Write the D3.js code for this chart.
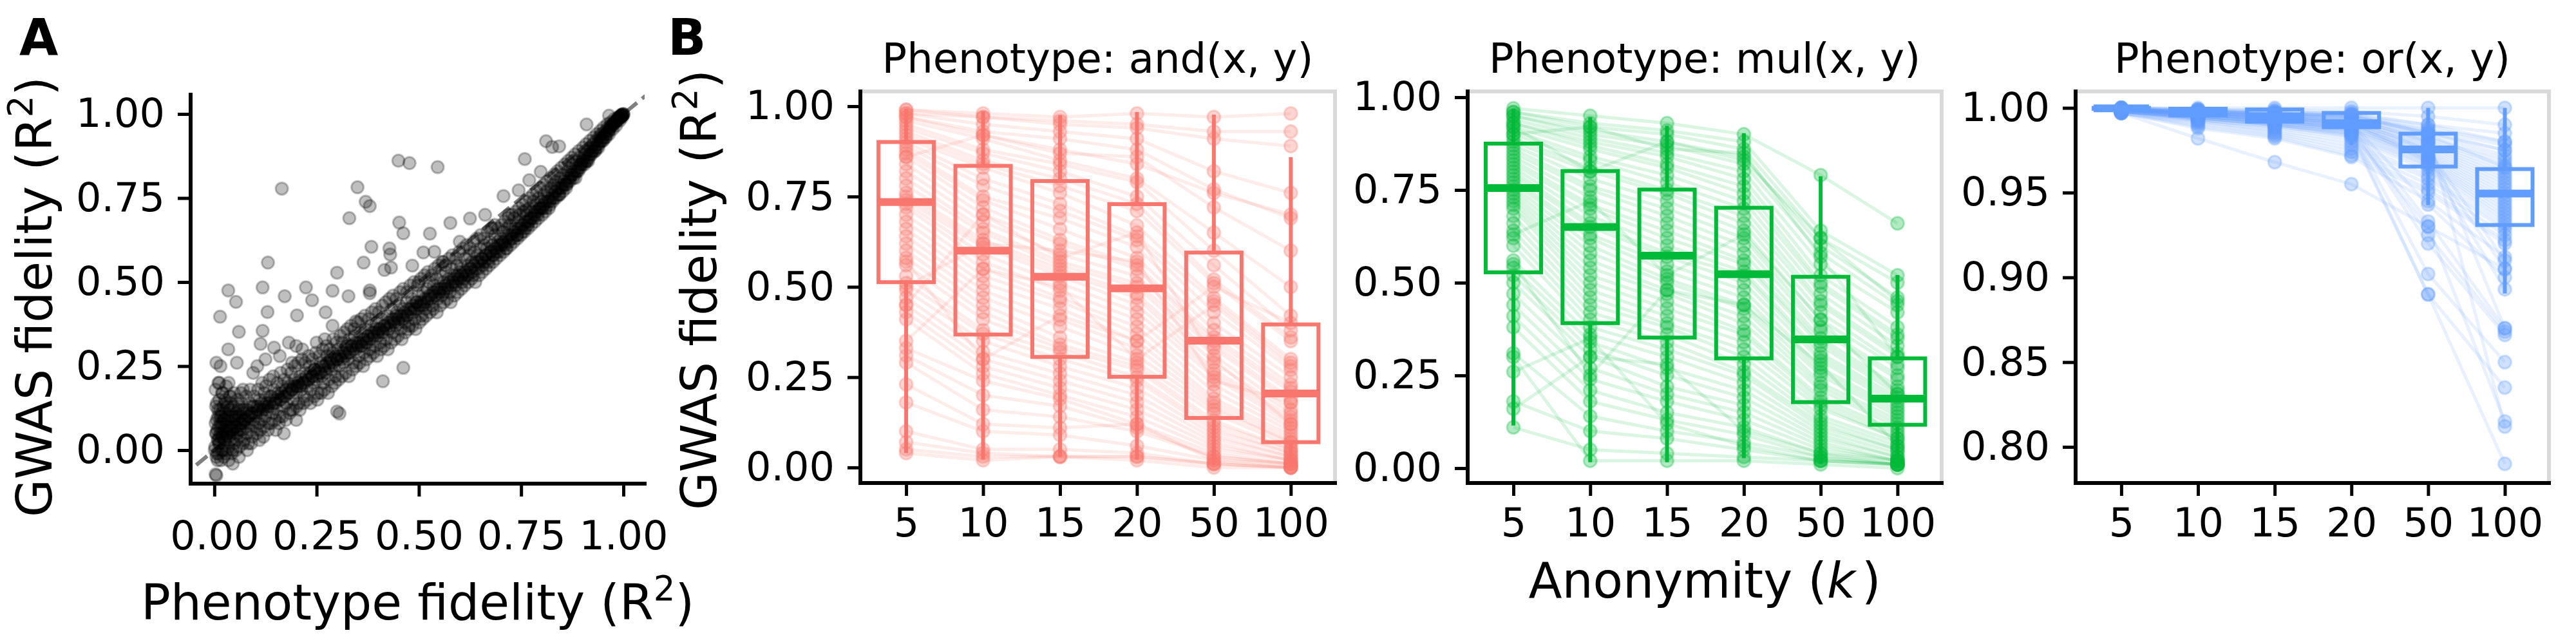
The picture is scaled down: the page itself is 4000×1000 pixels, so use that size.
<!DOCTYPE html>
<html><head><meta charset="utf-8">
<script src="https://cdn.jsdelivr.net/npm/d3@7"></script>
<style>body{margin:0;background:#fff;} svg{display:block;font-family:"DejaVu Sans",sans-serif;}</style>
</head><body><svg id="c" width="4000" height="1000"></svg>
<script>
// ---------- DATA ----------
const scatterBand = [
[0.002,0.01],[0.004,0.05],[0.005,-0.02],[0.006,0.09],[0.008,0.03],[0.009,0.12],[0.01,-0.01],[0.011,0.07],[0.012,0.15],[0.013,0.02],[0.015,0.05],[0.016,-0.03],[0.017,0.10],[0.018,0.04],[0.02,0.08],[0.021,0.0],[0.022,0.13],[0.024,0.06],[0.025,0.02],[0.027,0.11],[0.028,-0.01],[0.03,0.07],[0.031,0.04],[0.033,0.09],
[0.035,0.01],[0.036,0.12],[0.038,0.06],[0.04,0.03],[0.042,0.08],[0.044,0.10],[0.045,0.0],[0.047,0.05],[0.05,0.07],[0.052,0.11],[0.054,0.03],[0.056,0.09],[0.058,0.06],[0.06,0.13],[0.062,0.04],[0.064,0.08],[0.066,0.1],[0.068,0.06],[0.07,0.02],[0.072,0.09],[0.075,0.12],[0.077,0.07],[0.08,0.05],[0.082,0.1],[0.085,0.08],[0.087,0.14],[0.09,0.06],[0.092,0.11],[0.095,0.09],[0.098,0.13],[0.1,0.07],
[0.102,0.10],[0.105,0.12],[0.108,0.08],[0.11,0.15],[0.113,0.11],[0.116,0.09],[0.12,0.13],[0.122,0.17],[0.125,0.10],[0.128,0.14],[0.13,0.12],[0.133,0.08],[0.136,0.16],[0.14,0.13],[0.143,0.11],[0.146,0.18],[0.15,0.14],[0.153,0.12],[0.156,0.16],[0.16,0.10],[0.163,0.15],[0.166,0.19],[0.17,0.13],[0.173,0.16],[0.176,0.14],[0.18,0.2],[0.183,0.17],[0.186,0.12],[0.19,0.18],[0.193,0.15],[0.196,0.21],[0.2,0.17],
[0.203,0.19],[0.206,0.14],[0.21,0.22],[0.213,0.18],[0.216,0.2],[0.22,0.16],[0.223,0.23],[0.226,0.19],[0.23,0.21],[0.233,0.25],[0.236,0.18],[0.24,0.22],[0.243,0.2],[0.246,0.24],[0.25,0.21],[0.253,0.17],[0.256,0.23],[0.26,0.26],[0.263,0.22],[0.266,0.2],[0.27,0.25],[0.273,0.23],[0.276,0.28],[0.28,0.21],[0.283,0.26],[0.286,0.24],[0.29,0.29],[0.293,0.25],[0.296,0.22],[0.3,0.27],
[0.303,0.3],[0.306,0.25],[0.31,0.28],[0.313,0.32],[0.316,0.26],[0.32,0.29],[0.323,0.31],[0.326,0.27],[0.33,0.33],[0.333,0.29],[0.336,0.31],[0.34,0.26],[0.343,0.34],[0.346,0.3],[0.35,0.32],[0.353,0.28],[0.356,0.35],[0.36,0.31],[0.363,0.33],[0.366,0.29],[0.37,0.36],[0.373,0.32],[0.376,0.34],[0.38,0.3],[0.383,0.37],[0.386,0.33],[0.39,0.35],[0.393,0.31],[0.396,0.38],[0.4,0.34],
[0.403,0.36],[0.406,0.32],[0.41,0.39],[0.413,0.35],[0.416,0.37],[0.42,0.33],[0.423,0.4],[0.426,0.36],[0.43,0.38],[0.433,0.42],[0.436,0.35],[0.44,0.39],[0.443,0.37],[0.446,0.41],[0.45,0.38],[0.453,0.43],[0.456,0.36],[0.46,0.4],[0.463,0.42],[0.466,0.38],[0.47,0.44],[0.473,0.4],[0.476,0.37],[0.48,0.42],[0.483,0.45],[0.486,0.41],[0.49,0.39],[0.493,0.44],[0.496,0.42],[0.5,0.46],
[0.503,0.43],[0.506,0.4],[0.51,0.47],[0.513,0.44],[0.516,0.42],[0.52,0.48],[0.523,0.45],[0.526,0.5],[0.53,0.46],[0.533,0.43],[0.536,0.49],[0.54,0.47],[0.543,0.51],[0.546,0.45],[0.55,0.48],[0.553,0.52],[0.556,0.46],[0.56,0.5],[0.563,0.48],[0.566,0.53],[0.57,0.49],[0.573,0.51],[0.576,0.47],[0.58,0.54],[0.583,0.5],[0.586,0.52],[0.59,0.49],[0.593,0.55],[0.596,0.51],[0.6,0.53],
[0.603,0.55],[0.606,0.5],[0.61,0.53],[0.613,0.57],[0.616,0.52],[0.62,0.55],[0.623,0.58],[0.626,0.54],[0.63,0.56],[0.633,0.52],[0.636,0.59],[0.64,0.56],[0.643,0.58],[0.646,0.54],[0.65,0.6],[0.653,0.57],[0.656,0.55],[0.66,0.61],[0.663,0.58],[0.666,0.6],[0.67,0.56],[0.673,0.62],[0.676,0.59],[0.68,0.61],[0.683,0.58],[0.686,0.64],[0.69,0.6],[0.693,0.62],[0.696,0.59],[0.7,0.63],
[0.703,0.61],[0.706,0.65],[0.71,0.62],[0.713,0.6],[0.716,0.66],[0.72,0.64],[0.723,0.67],[0.726,0.63],[0.73,0.65],[0.733,0.69],[0.736,0.66],[0.74,0.64],[0.743,0.68],[0.746,0.7],[0.75,0.67],[0.753,0.65],[0.756,0.71],[0.76,0.68],[0.763,0.7],[0.766,0.67],[0.77,0.72],[0.773,0.69],[0.776,0.71],[0.78,0.74],[0.783,0.7],[0.786,0.73],[0.79,0.71],[0.793,0.75],[0.796,0.72],[0.8,0.74],
[0.803,0.72],[0.806,0.76],[0.81,0.74],[0.813,0.77],[0.816,0.75],[0.82,0.73],[0.823,0.78],[0.826,0.76],[0.83,0.79],[0.833,0.77],[0.836,0.8],[0.84,0.78],[0.843,0.76],[0.846,0.81],[0.85,0.79],[0.853,0.82],[0.856,0.8],[0.86,0.78],[0.863,0.83],[0.866,0.81],[0.87,0.84],[0.873,0.82],[0.876,0.85],[0.88,0.83],[0.883,0.81],[0.886,0.86],[0.89,0.84],[0.893,0.87],[0.896,0.85],[0.9,0.86],
[0.903,0.87],[0.906,0.88],[0.91,0.86],[0.913,0.89],[0.916,0.88],[0.92,0.9],[0.923,0.89],[0.926,0.91],[0.93,0.9],[0.933,0.92],[0.936,0.91],[0.94,0.93],[0.943,0.92],[0.946,0.94],[0.95,0.93],[0.953,0.945],[0.956,0.94],[0.96,0.955],[0.963,0.95],[0.966,0.96],[0.97,0.965],[0.973,0.97],[0.976,0.97],[0.98,0.978],[0.983,0.98],[0.986,0.985],[0.99,0.99],[0.993,0.992],[0.996,0.996],[0.998,0.998],[1.0,1.0],[0.999,0.999],[0.997,0.995],[0.995,0.994],[0.992,0.99],[0.988,0.986]
];
const scatterBandWide = [
[0.003,0.18],[0.006,0.14],[0.008,-0.03],[0.012,0.2],[0.014,0.1],[0.019,0.17],[0.023,-0.02],[0.026,0.15],[0.029,0.19],[0.032,0.13],[0.037,0.16],[0.041,0.14],[0.043,-0.01],[0.048,0.17],[0.053,0.0],[0.057,0.15],[0.061,0.01],[0.065,0.17],[0.069,0.12],[0.073,0.03],[0.078,0.16],[0.083,0.02],[0.088,0.18],[0.093,0.04],[0.097,0.16],
[0.104,0.05],[0.107,0.18],[0.112,0.06],[0.117,0.2],[0.121,0.07],[0.126,0.19],[0.131,0.06],[0.135,0.21],[0.139,0.08],[0.144,0.22],[0.149,0.09],[0.154,0.2],[0.158,0.08],[0.162,0.23],[0.167,0.1],[0.171,0.21],[0.175,0.09],[0.179,0.24],[0.184,0.11],[0.188,0.23],[0.192,0.12],[0.197,0.25],
[0.201,0.13],[0.205,0.26],[0.209,0.12],[0.214,0.27],[0.218,0.14],[0.222,0.26],[0.227,0.15],[0.231,0.28],[0.235,0.14],[0.239,0.27],[0.244,0.16],[0.248,0.29],[0.252,0.15],[0.257,0.28],[0.261,0.17],[0.265,0.3],[0.269,0.18],[0.274,0.31],[0.278,0.17],[0.282,0.3],[0.287,0.19],[0.291,0.33],[0.295,0.2],[0.299,0.32],
[0.304,0.21],[0.308,0.34],[0.312,0.22],[0.317,0.35],[0.321,0.23],[0.325,0.36],[0.329,0.22],[0.334,0.37],[0.338,0.24],[0.342,0.36],[0.347,0.25],[0.351,0.38],[0.355,0.26],[0.359,0.39],[0.364,0.25],[0.368,0.4],[0.372,0.27],[0.377,0.39],[0.381,0.28],[0.385,0.41],[0.389,0.29],[0.394,0.42],[0.398,0.28],
[0.402,0.41],[0.407,0.3],[0.411,0.43],[0.415,0.31],[0.419,0.44],[0.424,0.3],[0.428,0.45],[0.432,0.32],[0.437,0.46],[0.441,0.33],[0.445,0.45],[0.449,0.34],[0.454,0.47],[0.458,0.33],[0.462,0.48],[0.467,0.35],[0.471,0.47],[0.475,0.36],[0.479,0.49],[0.484,0.37],[0.488,0.5],[0.492,0.36],[0.497,0.49],
[0.501,0.38],[0.505,0.51],[0.509,0.39],[0.514,0.52],[0.518,0.4],[0.522,0.53],[0.527,0.41],[0.531,0.52],[0.535,0.42],[0.539,0.54],[0.544,0.41],[0.548,0.55],[0.552,0.43],[0.557,0.56],[0.561,0.44],[0.565,0.55],[0.569,0.45],[0.574,0.57],[0.578,0.44],[0.582,0.58],[0.587,0.46],[0.591,0.57],[0.595,0.47],[0.599,0.59],
[0.604,0.48],[0.608,0.6],[0.612,0.49],[0.617,0.61],[0.621,0.5],[0.625,0.6],[0.629,0.51],[0.634,0.62],[0.638,0.5],[0.642,0.63],[0.647,0.52],[0.651,0.64],[0.655,0.53],[0.659,0.63],[0.664,0.54],[0.668,0.65],[0.672,0.55],[0.677,0.66],[0.681,0.56],[0.685,0.67],[0.689,0.57],[0.694,0.66],[0.698,0.58],
[0.702,0.67],[0.707,0.59],[0.711,0.68],[0.715,0.6],[0.719,0.69],[0.724,0.61],[0.728,0.7],[0.732,0.62],[0.737,0.71],[0.741,0.63],[0.745,0.72],[0.749,0.64],[0.754,0.73],[0.758,0.65],[0.762,0.74],[0.767,0.66],[0.771,0.75],[0.775,0.67],[0.779,0.76],[0.784,0.68],[0.788,0.77],[0.792,0.69],[0.797,0.78],
[0.801,0.7],[0.805,0.79],[0.809,0.71],[0.814,0.8],[0.818,0.72],[0.822,0.81],[0.827,0.74],[0.831,0.82],[0.835,0.75],[0.839,0.83],[0.844,0.76],[0.848,0.84],[0.852,0.77],[0.857,0.85],[0.861,0.79],[0.865,0.86],[0.869,0.8],[0.874,0.87],[0.878,0.81],[0.882,0.88],[0.887,0.83],[0.891,0.89],[0.895,0.84],
[0.901,0.9],[0.905,0.85],[0.909,0.91],[0.914,0.86],[0.918,0.92],[0.922,0.88],[0.927,0.93],[0.931,0.89],[0.935,0.94],[0.939,0.9],[0.944,0.95],[0.948,0.92],[0.952,0.96],[0.957,0.93],[0.961,0.97],[0.965,0.94],[0.969,0.975],[0.974,0.955],[0.978,0.985],[0.982,0.965],[0.987,0.99],[0.991,0.98],[0.994,0.997],[0.997,0.99]
];
const scatterCore = [
[0.005,0.05],[0.01,0.03],[0.015,0.08],[0.02,0.04],[0.025,0.09],[0.03,0.05],[0.035,0.07],[0.04,0.10],[0.045,0.06],[0.05,0.09],[0.055,0.07],[0.06,0.10],[0.065,0.08],[0.07,0.11],[0.075,0.09],[0.08,0.12],[0.085,0.10],[0.09,0.11],[0.095,0.13],[0.1,0.11],
[0.105,0.13],[0.11,0.12],[0.115,0.14],[0.12,0.12],[0.125,0.15],[0.13,0.13],[0.135,0.14],[0.14,0.16],[0.145,0.14],[0.15,0.15],[0.155,0.17],[0.16,0.15],[0.165,0.17],[0.17,0.16],[0.175,0.18],[0.18,0.17],[0.185,0.19],[0.19,0.18],[0.195,0.19],[0.2,0.19],
[0.205,0.2],[0.21,0.19],[0.215,0.21],[0.22,0.2],[0.225,0.22],[0.23,0.21],[0.235,0.23],[0.24,0.22],[0.245,0.24],[0.25,0.22],[0.255,0.24],[0.26,0.23],[0.265,0.25],[0.27,0.24],[0.275,0.26],[0.28,0.25],[0.285,0.27],[0.29,0.26],[0.295,0.28],[0.3,0.27],
[0.305,0.28],[0.31,0.27],[0.315,0.29],[0.32,0.28],[0.325,0.3],[0.33,0.29],[0.335,0.31],[0.34,0.3],[0.345,0.32],[0.35,0.31],[0.355,0.32],[0.36,0.31],[0.365,0.33],[0.37,0.32],[0.375,0.34],[0.38,0.33],[0.385,0.35],[0.39,0.34],[0.395,0.36],[0.4,0.35],
[0.405,0.36],[0.41,0.35],[0.415,0.37],[0.42,0.36],[0.425,0.38],[0.43,0.37],[0.435,0.39],[0.44,0.38],[0.445,0.4],[0.45,0.39],[0.455,0.4],[0.46,0.39],[0.465,0.41],[0.47,0.4],[0.475,0.42],[0.48,0.41],[0.485,0.43],[0.49,0.42],[0.495,0.44],[0.5,0.43],
[0.505,0.44],[0.51,0.43],[0.515,0.45],[0.52,0.44],[0.525,0.46],[0.53,0.45],[0.535,0.47],[0.54,0.46],[0.545,0.48],[0.55,0.47],[0.555,0.48],[0.56,0.47],[0.565,0.49],[0.57,0.48],[0.575,0.5],[0.58,0.49],[0.585,0.51],[0.59,0.5],[0.595,0.52],[0.6,0.51],
[0.605,0.52],[0.61,0.51],[0.615,0.53],[0.62,0.52],[0.625,0.54],[0.63,0.53],[0.635,0.55],[0.64,0.54],[0.645,0.56],[0.65,0.56],[0.655,0.57],[0.66,0.56],[0.665,0.58],[0.67,0.57],[0.675,0.59],[0.68,0.58],[0.685,0.6],[0.69,0.59],[0.695,0.61],[0.7,0.61],
[0.705,0.62],[0.71,0.61],[0.715,0.63],[0.72,0.62],[0.725,0.64],[0.73,0.63],[0.735,0.65],[0.74,0.64],[0.745,0.66],[0.75,0.66],[0.755,0.67],[0.76,0.66],[0.765,0.68],[0.77,0.68],[0.775,0.69],[0.78,0.69],[0.785,0.71],[0.79,0.7],[0.795,0.72],[0.8,0.72],
[0.805,0.73],[0.81,0.72],[0.815,0.74],[0.82,0.74],[0.825,0.75],[0.83,0.75],[0.835,0.77],[0.84,0.76],[0.845,0.78],[0.85,0.78],[0.855,0.79],[0.86,0.79],[0.865,0.8],[0.87,0.81],[0.875,0.82],[0.88,0.82],[0.885,0.83],[0.89,0.83],[0.895,0.85],[0.9,0.85],
[0.905,0.86],[0.91,0.86],[0.915,0.87],[0.92,0.88],[0.925,0.89],[0.93,0.89],[0.935,0.9],[0.94,0.91],[0.945,0.92],[0.95,0.92],[0.955,0.93],[0.96,0.94],[0.965,0.95],[0.97,0.96],[0.975,0.97],[0.98,0.975],[0.985,0.98],[0.99,0.99],[0.995,0.995],[1.0,0.998],
[0.001,0.0],[0.003,0.08],[0.004,0.13],[0.006,-0.01],[0.007,0.06],[0.009,0.1],[0.011,0.02],[0.012,0.04],[0.014,0.12],[0.016,0.07],[0.018,0.0],[0.019,0.11],[0.021,0.05],[0.023,0.09],[0.026,0.03],[0.027,0.14],[0.029,0.06],[0.032,0.0],[0.034,0.1],[0.037,0.04],[0.039,0.12],[0.041,0.07],[0.046,0.13],[0.049,0.02],[0.051,0.1],[0.055,0.05],[0.059,0.12],[0.063,0.06],[0.067,0.14],[0.071,0.08]
];
const scatterOutliers = [
[0.165,0.778],[0.45,0.861],[0.477,0.854],[0.546,0.842],[0.35,0.782],[0.37,0.739],[0.38,0.726],[0.33,0.69],[0.452,0.677],[0.462,0.645],[0.527,0.644],[0.577,0.676],[0.625,0.689],[0.662,0.7],[0.707,0.756],[0.759,0.866],[0.811,0.919],[0.826,0.902],[0.843,0.904],[0.91,0.969],[0.965,0.995],[0.798,0.828],[0.77,0.803],[0.744,0.773],[0.762,0.713],[0.384,0.605],[0.428,0.6],[0.43,0.582],[0.365,0.558],[0.3,0.528],[0.416,0.536],[0.432,0.543],[0.484,0.549],[0.511,0.588],[0.538,0.59],[0.131,0.558],[0.034,0.475],[0.053,0.441],[0.118,0.484],[0.172,0.458],[0.224,0.484],[0.239,0.446],[0.289,0.474],[0.328,0.458],[0.38,0.475],[0.38,0.467],[0.014,0.397],[0.13,0.411],[0.202,0.401],[0.272,0.41],[0.06,0.352],[0.118,0.355],[0.346,0.383],[0.289,0.37],[0.034,0.3],[0.113,0.316],[0.146,0.305],[0.182,0.32],[0.2,0.31],[0.215,0.3],[0.25,0.32],[0.27,0.33],[0.005,0.26],[0.015,0.25],[0.055,0.26],[0.035,0.2],[0.01,0.2],[0.095,0.23],[0.105,0.25],[0.125,0.27],[0.16,0.28],[0.19,0.26],[0.412,0.205],[0.462,0.245],[0.306,0.109],[0.3,0.115],[0.003,-0.072],[0.005,-0.075],[0.02,0.17],[0.04,0.16],[0.07,0.18],[0.68,0.66],[0.72,0.7],[0.6,0.62],[0.56,0.56],[0.5,0.5],[0.06,-0.02],[0.08,0.0],[0.09,0.02],[0.12,0.04],[0.15,0.06],[0.17,0.05],[0.2,0.09],[0.11,0.03],[0.035,-0.03],[0.045,-0.04]
];
const scatterTicks = [0, 0.25, 0.5, 0.75, 1.0];

const kLabels = ["5", "10", "15", "20", "50", "100"];
const panelTitles = ["Phenotype: and(x, y)", "Phenotype: mul(x, y)", "Phenotype: or(x, y)"];
const panelColors = ["#F8766D", "#00BA38", "#619CFF"];
const unitTicks = [0, 0.25, 0.5, 0.75, 1.0];
const orTicks = [0.80, 0.85, 0.90, 0.95, 1.00];

// one row per simulated pair: fidelity at k = 5,10,15,20,50,100
const andLines = [
[.99,.98,.97,.98,.97,.98],[.99,.97,.96,.95,.93,.93],[.98,.97,.95,.94,.91,.89],[.98,.95,.93,.91,.82,.76],[.97,.93,.91,.88,.77,.69],
[.97,.92,.87,.86,.72,.60],[.96,.91,.85,.80,.65,.50],[.95,.88,.84,.79,.60,.42],[.94,.87,.82,.75,.56,.38],[.93,.85,.80,.73,.52,.36],
[.92,.84,.78,.71,.51,.35],[.91,.83,.76,.67,.47,.30],[.90,.80,.73,.64,.46,.29],[.89,.78,.71,.63,.43,.27],[.88,.75,.69,.61,.40,.25],
[.87,.74,.66,.58,.38,.23],[.86,.72,.63,.56,.36,.22],[.84,.70,.62,.55,.35,.21],[.82,.68,.59,.53,.34,.19],[.80,.66,.57,.51,.33,.18],
[.78,.65,.56,.50,.31,.16],[.76,.63,.55,.48,.29,.15],[.75,.62,.54,.47,.27,.14],[.74,.61,.53,.45,.26,.13],[.73,.59,.51,.43,.25,.12],
[.72,.57,.49,.41,.23,.11],[.70,.55,.47,.39,.21,.10],[.68,.53,.46,.37,.19,.09],[.66,.51,.44,.35,.18,.08],[.64,.49,.41,.33,.17,.07],
[.62,.47,.39,.31,.16,.07],[.60,.45,.36,.29,.15,.06],[.58,.43,.34,.28,.13,.05],[.56,.41,.33,.27,.12,.05],[.53,.38,.32,.25,.11,.04],
[.51,.37,.30,.24,.10,.04],[.49,.35,.28,.22,.09,.03],[.47,.32,.26,.20,.08,.03],[.45,.30,.24,.18,.07,.02],[.43,.28,.22,.16,.06,.02],
[.41,.26,.20,.14,.05,.02],[.33,.24,.19,.12,.04,.01],[.31,.20,.17,.11,.03,.01],[.29,.16,.14,.10,.03,.01],[.23,.12,.11,.12,.02,.01],
[.18,.10,.09,.06,.02,.00],[.10,.05,.05,.04,.01,.00],[.07,.04,.03,.03,.01,.00],[.05,.03,.03,.02,.00,.00],[.04,.02,.03,.03,.01,.00],
[.35,.55,.50,.30,.45,.28],[.57,.30,.42,.35,.50,.40],[.45,.70,.58,.65,.30,.12],[.86,.92,.88,.84,.76,.70],[.50,.62,.60,.57,.24,.18]
];
const mulLines = [
[.97,.95,.93,.90,.79,.66],[.96,.93,.91,.88,.64,.52],[.96,.92,.90,.86,.62,.50],[.95,.91,.88,.84,.60,.46],[.95,.90,.87,.82,.58,.44],
[.94,.89,.85,.80,.55,.42],[.93,.88,.84,.78,.52,.38],[.93,.87,.82,.76,.50,.36],[.92,.86,.81,.74,.49,.35],[.91,.84,.79,.72,.47,.33],
[.90,.83,.77,.70,.45,.31],[.89,.81,.75,.68,.44,.30],[.88,.80,.74,.66,.42,.28],[.87,.78,.72,.64,.40,.27],[.86,.76,.70,.62,.38,.25],
[.85,.75,.68,.60,.37,.24],[.84,.73,.66,.58,.35,.22],[.83,.71,.64,.56,.34,.21],[.82,.70,.62,.55,.33,.20],[.81,.68,.60,.53,.31,.19],
[.80,.66,.58,.52,.30,.18],[.79,.65,.57,.50,.29,.17],[.78,.63,.55,.48,.27,.16],[.77,.62,.53,.46,.26,.15],[.76,.60,.51,.44,.25,.14],
[.75,.58,.50,.43,.23,.13],[.74,.56,.48,.41,.22,.12],[.73,.54,.47,.39,.21,.11],[.72,.52,.45,.37,.19,.10],[.71,.50,.43,.36,.18,.09],
[.70,.48,.41,.34,.17,.08],[.68,.46,.39,.32,.16,.08],[.66,.44,.38,.30,.14,.07],[.64,.42,.36,.28,.13,.06],[.62,.40,.34,.26,.12,.05],
[.60,.38,.32,.25,.11,.05],[.56,.36,.30,.23,.10,.04],[.54,.34,.27,.21,.09,.03],[.52,.32,.25,.19,.08,.03],[.50,.30,.22,.17,.07,.02],
[.47,.27,.20,.15,.06,.02],[.44,.24,.18,.13,.05,.02],[.41,.21,.15,.11,.04,.01],[.38,.18,.13,.09,.03,.01],[.31,.14,.10,.07,.03,.01],
[.26,.35,.12,.06,.02,.01],[.18,.10,.08,.05,.02,.01],[.16,.30,.28,.10,.04,.02],[.11,.05,.04,.03,.02,.01],[.30,.02,.02,.02,.01,.00],
[.92,.80,.88,.83,.62,.45],[.63,.72,.52,.63,.40,.20],[.55,.25,.48,.44,.28,.06],[.90,.92,.86,.85,.57,.30]
];
const orLines = [
[1.0,1.0,1.0,1.0,1.0,1.0],[1.0,.999,.998,.997,.990,.985],[1.0,.999,.998,.996,.988,.980],[1.0,.999,.997,.995,.986,.975],[1.0,.998,.997,.995,.985,.972],
[1.0,.998,.996,.994,.983,.970],[.999,.998,.996,.993,.982,.968],[.999,.998,.995,.993,.981,.966],[.999,.997,.995,.992,.980,.964],[.999,.997,.995,.992,.979,.962],
[.999,.997,.994,.991,.978,.960],[.999,.997,.994,.991,.977,.958],[.999,.996,.994,.990,.976,.956],[.999,.996,.993,.990,.975,.954],[.999,.996,.993,.989,.974,.952],
[.999,.996,.993,.989,.973,.950],[.999,.995,.992,.988,.972,.948],[.998,.995,.992,.988,.971,.946],[.998,.995,.992,.987,.970,.944],[.998,.995,.991,.987,.969,.942],
[.998,.994,.991,.986,.968,.940],[.998,.994,.990,.985,.967,.938],[.998,.994,.990,.984,.966,.936],[.998,.993,.989,.983,.965,.934],[.998,.993,.988,.982,.963,.932],
[.998,.992,.987,.980,.960,.930],[.997,.992,.986,.978,.958,.928],[.997,.991,.985,.976,.955,.925],[.997,.990,.984,.974,.952,.922],[.997,.989,.983,.972,.950,.920],
[.997,.988,.982,.971,.945,.912],[.997,.982,.968,.955,.930,.905],[.999,.997,.995,.991,.943,.900],[.999,.996,.993,.990,.933,.870],[.999,.996,.992,.989,.925,.868],
[.999,.995,.992,.988,.920,.866],[.998,.995,.991,.987,.902,.850],[.998,.994,.990,.986,.890,.835],[.998,.994,.990,.985,.930,.815],[.998,.993,.989,.984,.890,.790],
[.999,.998,.997,.996,.985,.812],[.999,.997,.996,.994,.980,.870],[.999,.997,.995,.993,.975,.910],[.999,.996,.994,.992,.970,.905],[.999,.996,.994,.991,.968,.893],
[.999,.998,.996,.995,.985,.975],[.999,.998,.997,.996,.990,.980],[1.0,.999,.999,.998,.995,.990],[.999,.998,.997,.995,.987,.978],[.999,.997,.996,.994,.984,.965]
];
// box summaries: [whiskerLow, q1, median, q3, whiskerHigh]
const andBoxes = [[.040,.513,.735,.901,.993],[.022,.368,.600,.835,.986],[.029,.306,.528,.793,.975],[.022,.251,.496,.729,.984],[.007,.137,.351,.595,.977],[.002,.070,.205,.396,.859]];
const mulBoxes = [[.115,.528,.755,.875,.969],[.016,.391,.650,.801,.946],[.016,.352,.573,.751,.923],[.027,.296,.523,.702,.903],[.0125,.178,.347,.516,.787],[.009,.117,.1875,.296,.521]];
const orBoxes = [[.9990,.9994,.9997,1.0,1.0],[.9900,.9955,.9980,.9995,1.0],[.9850,.9919,.9950,.9991,1.0],[.9780,.9886,.9910,.9970,1.0],[.9426,.9654,.9755,.9848,1.0],[.8905,.9309,.9495,.9639,1.0]];

// ---------- DRAW ----------
const svg = d3.select("#c");
const FONT = "DejaVu Sans";
const fmt2 = d3.format(".2f");

function styleAxis(g, fs) {
  g.select(".domain").remove();
  g.attr("font-family", FONT).attr("font-size", fs);
  g.selectAll(".tick line").attr("stroke", "#000").attr("stroke-width", 5);
  g.selectAll(".tick text").attr("fill", "#000");
}
function ylabel(x, cy, txt) {
  const t = svg.append("text").attr("transform", `translate(${x},${cy}) rotate(-90)`)
    .attr("text-anchor", "middle").attr("font-family", FONT).attr("font-size", 76);
  t.append("tspan").text(txt + " (R");
  t.append("tspan").attr("font-size", 53).attr("dy", -30).text("2");
  t.append("tspan").attr("dy", 30).text(")");
}

// ---- Panel A ----
const A = {l: 296, r: 1001, t: 147, b: 751};
const ax = d3.scaleLinear().domain([-0.058, 1.052]).range([A.l, A.r]);
const ay = d3.scaleLinear().domain([-0.0996, 1.0575]).range([A.b, A.t]);
svg.append("clipPath").attr("id", "clipA").append("rect")
  .attr("x", A.l).attr("y", A.t).attr("width", A.r - A.l).attr("height", A.b - A.t);
const gA = svg.append("g").attr("clip-path", "url(#clipA)");
gA.append("line").attr("x1", ax(-0.2)).attr("y1", ay(-0.2)).attr("x2", ax(1.2)).attr("y2", ay(1.2))
  .attr("stroke", "#808080").attr("stroke-width", 6).attr("stroke-dasharray", "22,10");
const allPts = scatterBand.concat(scatterBandWide, scatterCore, scatterOutliers);
gA.selectAll("circle.pt").data(allPts).enter().append("circle")
  .attr("cx", d => ax(d[0])).attr("cy", d => ay(d[1])).attr("r", 9.5)
  .attr("fill", "#000").attr("fill-opacity", 0.25)
  .attr("stroke", "#000").attr("stroke-opacity", 0.25).attr("stroke-width", 3);

const gAy = svg.append("g").attr("transform", `translate(${A.l},0)`)
  .call(d3.axisLeft(ay).tickValues(scatterTicks).tickFormat(fmt2).tickSize(20).tickPadding(20).tickSizeOuter(0));
styleAxis(gAy, 62);
const gAx = svg.append("g").attr("transform", `translate(0,${A.b})`)
  .call(d3.axisBottom(ax).tickValues(scatterTicks).tickFormat(fmt2).tickSize(20).tickPadding(38).tickSizeOuter(0));
styleAxis(gAx, 62);
svg.append("path").attr("d", `M${A.l},${A.t}V${A.b}H${A.r}`).attr("fill", "none")
  .attr("stroke", "#000").attr("stroke-width", 6).attr("stroke-linecap", "square");

ylabel(80, 461, "GWAS fidelity");
{
  const t = svg.append("text").attr("x", (A.l + A.r) / 2).attr("y", 962).attr("text-anchor", "middle")
    .attr("font-family", FONT).attr("font-size", 76);
  t.append("tspan").text("Phenotype fidelity (R");
  t.append("tspan").attr("font-size", 53).attr("dy", -30).text("2");
  t.append("tspan").attr("dy", 30).text(")");
}
svg.append("text").attr("x", 30).attr("y", 85).attr("font-family", FONT).attr("font-weight", "bold")
  .attr("font-size", 78).text("A");
svg.append("text").attr("x", 1037).attr("y", 85).attr("font-family", FONT).attr("font-weight", "bold")
  .attr("font-size", 78).text("B");

// ---- Panel B ----
const panels = [
  {l: 1336, r: 2073, dom: [-0.043, 1.041], lines: andLines, boxes: andBoxes, ticks: unitTicks},
  {l: 2279, r: 3015, dom: [-0.040, 1.0156], lines: mulLines, boxes: mulBoxes, ticks: unitTicks},
  {l: 3223, r: 3958, dom: [0.7787, 1.0097], lines: orLines, boxes: orBoxes, ticks: orTicks}
];
const BT = 142, BB = 750;
panels.forEach((p, i) => {
  const col = panelColors[i];
  const x = d3.scaleLinear().domain([-0.595, 5.575]).range([p.l, p.r]);
  const y = d3.scaleLinear().domain(p.dom).range([BB, BT]);
  svg.append("rect").attr("x", p.l).attr("y", BT).attr("width", p.r - p.l).attr("height", BB - BT)
    .attr("fill", "none").attr("stroke", "#d9d9d9").attr("stroke-width", 6);
  svg.append("clipPath").attr("id", "clipB" + i).append("rect")
    .attr("x", p.l).attr("y", BT).attr("width", p.r - p.l).attr("height", BB - BT);
  const g = svg.append("g").attr("clip-path", `url(#clipB${i})`);
  const line = d3.line().x((d, j) => x(j)).y(d => y(d));
  g.selectAll("path.ln").data(p.lines).enter().append("path")
    .attr("d", line).attr("fill", "none").attr("stroke", col).attr("stroke-opacity", 0.14).attr("stroke-width", 5);
  const dots = [];
  p.lines.forEach(r => r.forEach((v, j) => dots.push([j, v])));
  g.selectAll("circle.dt").data(dots).enter().append("circle")
    .attr("cx", d => x(d[0])).attr("cy", d => y(d[1])).attr("r", 10)
    .attr("fill", col).attr("fill-opacity", 0.3).attr("stroke", col).attr("stroke-opacity", 0.3).attr("stroke-width", 3);
  const bw = 86;
  const bg = g.selectAll("g.box").data(p.boxes).enter().append("g");
  bg.append("line").attr("x1", (d, j) => x(j)).attr("x2", (d, j) => x(j))
    .attr("y1", d => y(d[0])).attr("y2", d => y(d[1])).attr("stroke", col).attr("stroke-width", 6);
  bg.append("line").attr("x1", (d, j) => x(j)).attr("x2", (d, j) => x(j))
    .attr("y1", d => y(d[3])).attr("y2", d => y(d[4])).attr("stroke", col).attr("stroke-width", 6);
  bg.append("rect").attr("x", (d, j) => x(j) - bw / 2).attr("width", bw)
    .attr("y", d => y(d[3])).attr("height", d => Math.max(0.5, y(d[1]) - y(d[3])))
    .attr("fill", "none").attr("stroke", col).attr("stroke-width", 6);
  bg.append("line").attr("x1", (d, j) => x(j) - bw / 2).attr("x2", (d, j) => x(j) + bw / 2)
    .attr("y1", d => y(d[2])).attr("y2", d => y(d[2])).attr("stroke", col).attr("stroke-width", 12);
  const gy = svg.append("g").attr("transform", `translate(${p.l},0)`)
    .call(d3.axisLeft(y).tickValues(p.ticks).tickFormat(fmt2).tickSize(20).tickPadding(20).tickSizeOuter(0));
  styleAxis(gy, 62);
  const gx = svg.append("g").attr("transform", `translate(0,${BB})`)
    .call(d3.axisBottom(x).tickValues(d3.range(6)).tickFormat(j => kLabels[j]).tickSize(20).tickPadding(19).tickSizeOuter(0));
  styleAxis(gx, 62);
  svg.append("path").attr("d", `M${p.l},${BT}V${BB}H${p.r}`).attr("fill", "none")
    .attr("stroke", "#000").attr("stroke-width", 6).attr("stroke-linecap", "square");
  svg.append("text").attr("x", (p.l + p.r) / 2).attr("y", 113).attr("text-anchor", "middle")
    .attr("font-family", FONT).attr("font-size", 64).text(panelTitles[i]);
});
ylabel(1112, 450, "GWAS fidelity");
{
  const p = panels[1];
  const t = svg.append("text").attr("x", (p.l + p.r) / 2).attr("y", 928).attr("text-anchor", "middle")
    .attr("font-family", FONT).attr("font-size", 76);
  t.append("tspan").text("Anonymity (");
  t.append("tspan").attr("font-style", "italic").text("k");
  t.append("tspan").attr("dx", 10).text(")");
}
</script></body></html>
